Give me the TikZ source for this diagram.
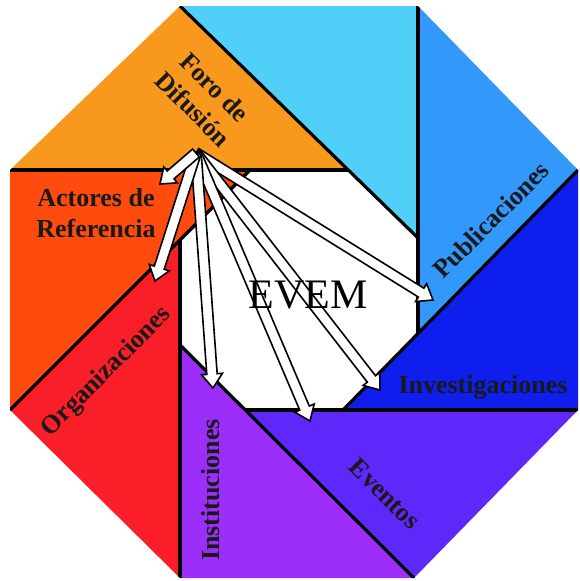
\documentclass[tikz,border=0pt]{standalone}
\usepackage{fontspec}
\setmainfont{Liberation Serif}
\usetikzlibrary{calc}

\definecolor{cForo}{RGB}{248,152,28}
\definecolor{cCeleste}{RGB}{80,208,248}
\definecolor{cPub}{RGB}{50,152,250}
\definecolor{cInv}{RGB}{14,30,236}
\definecolor{cEve}{RGB}{94,40,250}
\definecolor{cIns}{RGB}{156,46,250}
\definecolor{cOrg}{RGB}{250,30,40}
\definecolor{cAct}{RGB}{255,76,14}

\begin{document}
\begin{tikzpicture}[x=1pt,y=-1pt,
    borde/.style={line width=3.2pt},
    etiqueta/.style={font=\bfseries\fontsize{26}{31}\selectfont,align=center,text=black!90},
    flecha/.style={fill=white,draw=black,line width=1.6pt,line join=miter}]

\useasboundingbox (0,0) rectangle (579,581);

% hojas del diafragma
\fill[cForo] (10,170) -- (180,6) -- (348,170) -- cycle;
\fill[cCeleste] (180,6) -- (418,6) -- (418,238) -- cycle;
\fill[cPub] (418,6) -- (578,170) -- (418,333) -- cycle;
\fill[cInv] (578,170) -- (578,410) -- (343,410) -- cycle;
\fill[cEve] (578,410) -- (414,578) -- (245,410) -- cycle;
\fill[cIns] (414,578) -- (180,578) -- (180,345) -- cycle;
\fill[cOrg] (180,578) -- (10,410) -- (180,240) -- cycle;
\fill[cAct] (10,410) -- (10,170) -- (250,170) -- cycle;

\begin{scope}
    \clip (180,6) -- (418,6) -- (578,170) -- (578,410) -- (414,578) -- (180,578) -- (10,410) -- (10,170) -- cycle;
    \draw[borde] (180,6) -- (418,238);
    \draw[borde] (418,6) -- (418,333);
    \draw[borde] (578,170) -- (343,410);
    \draw[borde] (578,410) -- (245,410);
    \draw[borde] (414,578) -- (180,345);
    \draw[borde] (180,578) -- (180,240);
    \draw[borde] (10,410) -- (250,170);
    \draw[borde] (10,170) -- (348,170);
\end{scope}

\node[etiqueta,rotate=-45] (foro-txt) at (204,98) {Foro de\\Difusión};
\node[etiqueta] (actores) at (96,213) {Actores de\\Referencia};
\node[etiqueta,rotate=45] (publicaciones) at (491,220) {Publicaciones};
\node[etiqueta,anchor=base] (investigaciones) at (483,393) {Investigaciones};
\node[etiqueta,rotate=-45] (eventos) at (385,494) {Eventos};
\node[etiqueta,rotate=90] (instituciones) at (211,490) {Instituciones};
\node[etiqueta,rotate=45] (organizaciones) at (107,372) {Organizaciones};

% flechas desde el foro
\coordinate (foro) at (196,153);
\coordinate (aPub) at (433,300);
\coordinate (aInv) at (380,390);
\coordinate (aEve) at (310,421);
\coordinate (aIns) at (213,388);
\coordinate (aOrg) at (155,281);
\coordinate (aAct) at (160,184);

\foreach \destino in {aPub,aInv,aEve,aIns,aOrg,aAct} {
    \coordinate (base) at ($(\destino)!14pt!(foro)$);
    \filldraw[flecha] ($(foro)!5.2pt!90:(\destino)$) -- ($(base)!5.2pt!90:(\destino)$)
        -- ($(base)!10.5pt!90:(\destino)$) -- (\destino) -- ($(base)!10.5pt!-90:(\destino)$)
        -- ($(base)!5.2pt!-90:(\destino)$) -- ($(foro)!5.2pt!-90:(\destino)$) -- cycle;
}

\node[font=\fontsize{42}{42}\selectfont,anchor=base] (evem) at (308,308) {EVEM};
\end{tikzpicture}
\end{document}
